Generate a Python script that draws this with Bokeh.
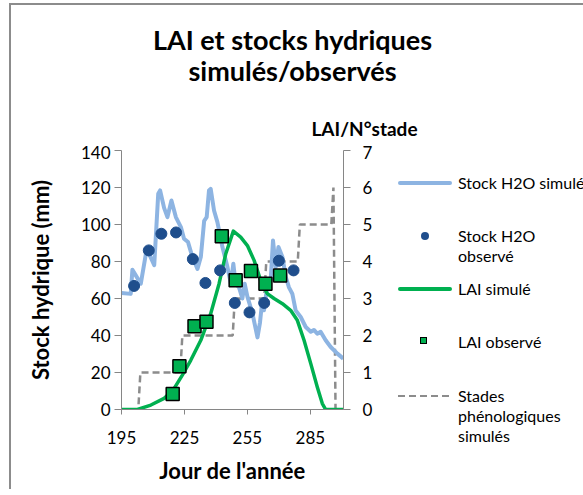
from bokeh.plotting import figure
from bokeh.models import (Range1d, LinearAxis, FixedTicker, Label, Div)
from bokeh.layouts import row, column
from bokeh.embed import file_html
from bokeh.resources import INLINE

# ---- data ----
sim_h2o_day = [195, 199.4, 200.2, 201.8, 204.2, 206.6, 207.4, 210.6, 212.5, 213.4, 215.3, 216.9,
               218.8, 220.9, 223.3, 224.8, 226.7, 228.8, 231.2, 232.8, 234.4, 235.6, 236.7, 237.5,
               239.1, 240.7, 243.1, 245.5, 247.1, 248.3, 249.4, 251.0, 252.6, 253.7, 255.0, 257.4,
               259.8, 261.0, 262.1, 262.9, 264.2, 266.1, 267.2, 268.5, 269.8, 271.7, 273.3, 274.8,
               276.4, 278.0, 280.4, 282.8, 285.2, 286.7, 288.3, 289.9, 292.3, 294.7, 297.9, 300.7]
sim_h2o_mm = [63, 62.5, 75.6, 72.5, 68, 84, 86, 78, 116.6, 118.4, 109, 104,
              113, 104, 98.6, 92.3, 90.5, 82.4, 76, 82.4, 102, 104, 118.4, 119.3,
              107.6, 101.3, 87.8, 77, 68, 78.8, 68, 66, 60, 68, 61, 52,
              39, 47, 59, 53.6, 64.4, 70, 91.4, 77, 87.8, 82.4, 71.6, 66,
              62.6, 53.6, 50, 44.6, 42, 43, 41, 42, 37.4, 33.8, 30.2, 27.5]

obs_h2o_day = [201, 208, 214, 221, 229, 235, 242, 249, 256, 263, 270, 277]
obs_h2o_mm = [66.8, 86.0, 95.0, 95.7, 81.3, 68.4, 75.2, 57.6, 52.5, 57.6, 80.4, 75.2]

sim_lai_day = [195, 202.6, 209.0, 215.3, 220.1, 224.0, 228.0, 232.8, 237.5, 241.5, 244.7, 248.3,
               251.8, 255.0, 258.2, 261.3, 264.5, 267.7, 271.7, 275.6, 278.8, 282.0, 285.2,
               288.3, 290.7, 292.3, 300.7]
sim_lai = [0, 0, 0.12, 0.30, 0.57, 0.93, 1.33, 1.87, 2.59, 3.40, 4.21, 4.82,
           4.66, 4.43, 4.03, 3.49, 3.13, 3.0, 2.86, 2.68, 2.41, 1.87, 1.24,
           0.61, 0.16, 0, 0]

obs_lai_day = [219.4, 222.6, 229.8, 235.5, 242.8, 249.4, 256.7, 263.6, 270.6]
obs_lai = [0.42, 1.17, 2.25, 2.37, 4.68, 3.49, 3.74, 3.40, 3.62]

stade_day = [195, 203, 204, 223, 224, 248, 249, 263, 264, 279, 280, 295, 296, 297, 301]
stade_val = [0, 0, 1, 1, 2, 2, 3, 3, 4, 4, 5, 5, 6, 0, 0]

x_ticks = [195, 225, 255, 285]
y_ticks = [0, 20, 40, 60, 80, 100, 120, 140]
y2_ticks = [0, 1, 2, 3, 4, 5, 6, 7]

title_lines = ["LAI et stocks hydriques", "simulés/observés"]
y2_title = "LAI/N°stade"
legend_labels = [["Stock H2O simulé"], ["Stock H2O", "observé"], ["LAI simulé"],
                 ["LAI observé"], ["Stades", "phénologiques", "simulés"]]

FONT = "Lato"
C_SIM_H2O = "#8DB4E2"
C_OBS_H2O = "#1F4E8C"
C_LAI = "#00B050"
C_STADE = "#8C8C8C"
AX = "#868686"

TOP_H = 140
P_W = 362
LEG_W = 210
P_H = 344

# ---- title strip ----
top = figure(width=P_W + LEG_W, height=TOP_H, title=None, output_backend="svg",
             toolbar_location=None, x_axis_location=None, y_axis_location=None,
             x_range=Range1d(0, 1), y_range=Range1d(0, 1), min_border=0)
top.grid.visible = False
top.outline_line_color = None
top.background_fill_color = "white"
top.border_fill_color = "white"
for txt, xs, ys in zip(title_lines, [281, 281], [106, 75]):
    top.add_layout(Label(x=xs, y=ys, x_units="screen", y_units="screen", text=txt,
                         text_font=FONT, text_font_style="bold", text_font_size="27px",
                         text_align="center", text_baseline="middle", text_color="#000000"))
top.add_layout(Label(x=353, y=17, x_units="screen", y_units="screen", text=y2_title,
                     text_font=FONT, text_font_style="bold", text_font_size="19px",
                     text_align="center", text_baseline="middle", text_color="#000000"))

# ---- main chart ----
p = figure(frame_width=222, frame_height=259, title=None, output_backend="svg",
           toolbar_location=None, x_range=Range1d(195, 300.8), y_range=Range1d(0, 140),
           min_border_left=110, min_border_right=30, min_border_top=5, min_border_bottom=80)
p.extra_y_ranges = {"lai": Range1d(0, 7)}
p.outline_line_color = None
p.xgrid.visible = False
p.ygrid.visible = False
p.background_fill_color = "white"
p.border_fill_color = "white"

xa = p.xaxis[0]
xa.ticker = FixedTicker(ticks=x_ticks)
xa.axis_label = "Jour de l'année"
ya = p.yaxis[0]
ya.ticker = FixedTicker(ticks=y_ticks)
ya.axis_label = "Stock hydrique (mm)"
ya2 = LinearAxis(y_range_name="lai", ticker=FixedTicker(ticks=y2_ticks))
p.add_layout(ya2, "right")

for ax in (xa, ya, ya2):
    ax.axis_line_color = AX
    ax.major_tick_line_color = AX
    ax.minor_tick_line_color = None
    ax.major_tick_in = 0
    ax.major_tick_out = 7
    ax.major_label_text_font = FONT
    ax.major_label_text_font_size = "17px"
    ax.major_label_text_color = "#000000"
    ax.axis_label_text_font = FONT
    ax.axis_label_text_font_style = "bold"
    ax.axis_label_text_font_size = "22px"
    ax.axis_label_text_color = "#000000"
xa.major_tick_out = 5
xa.major_label_standoff = 16
xa.axis_label_standoff = 10
ya.major_label_standoff = 4
ya.axis_label_standoff = 24
ya2.major_label_standoff = 12

p.line(stade_day, stade_val, y_range_name="lai", line_color=C_STADE,
       line_width=2.5, line_dash="7 4")
p.line(sim_h2o_day, sim_h2o_mm, line_color=C_SIM_H2O, line_width=4, line_join="round")
p.line(sim_lai_day, sim_lai, y_range_name="lai", line_color=C_LAI, line_width=3.5,
       line_join="round")
p.scatter(obs_h2o_day, obs_h2o_mm, marker="circle", size=11,
          fill_color=C_OBS_H2O, line_color=C_OBS_H2O)
p.scatter(obs_lai_day, obs_lai, y_range_name="lai", marker="square", size=13,
          fill_color=C_LAI, line_color="black", line_width=1.5)

# ---- legend panel (HTML) ----
samples = [
    f"width:54px;height:4px;left:23px;background:{C_SIM_H2O};border-radius:2px;",
    f"width:8px;height:8px;left:46px;background:{C_OBS_H2O};border-radius:50%;",
    f"width:54px;height:3.5px;left:23px;background:{C_LAI};border-radius:2px;",
    f"width:7px;height:7px;left:45px;background:{C_LAI};border:1.5px solid #000;",
    f"width:54px;height:2.5px;left:23px;"
    f"background:repeating-linear-gradient(to right,{C_STADE} 0 7px,transparent 7px 11px);",
]
sample_h = [4, 8, 3.5, 10, 2.5]
centers = [38, 91, 144, 197, 251]
line_step = 20
parts = [f'<div style="position:relative;width:{LEG_W}px;height:{P_H}px;'
         f'font-family:{FONT},sans-serif;font-size:16px;color:#000;">']
for lab, css, sh, cy in zip(legend_labels, samples, sample_h, centers):
    parts.append(f'<div style="position:absolute;top:{cy - sh / 2}px;{css}"></div>')
    for k, t in enumerate(lab):
        parts.append(f'<div style="position:absolute;left:83px;top:{cy - 10 + k * line_step}px;'
                     f'line-height:20px;white-space:nowrap;">{t}</div>')
parts.append("</div>")
leg = Div(text="".join(parts), width=LEG_W, height=P_H, margin=0)

layout = column(top, row(p, leg, spacing=0), spacing=0)
layout.styles = {"margin-left": "9px", "margin-top": "3px",
                 "border-left": "2px solid #8c8c8c", "border-top": "2px solid #8c8c8c"}

open("out.html", "w").write(file_html(layout, INLINE))
